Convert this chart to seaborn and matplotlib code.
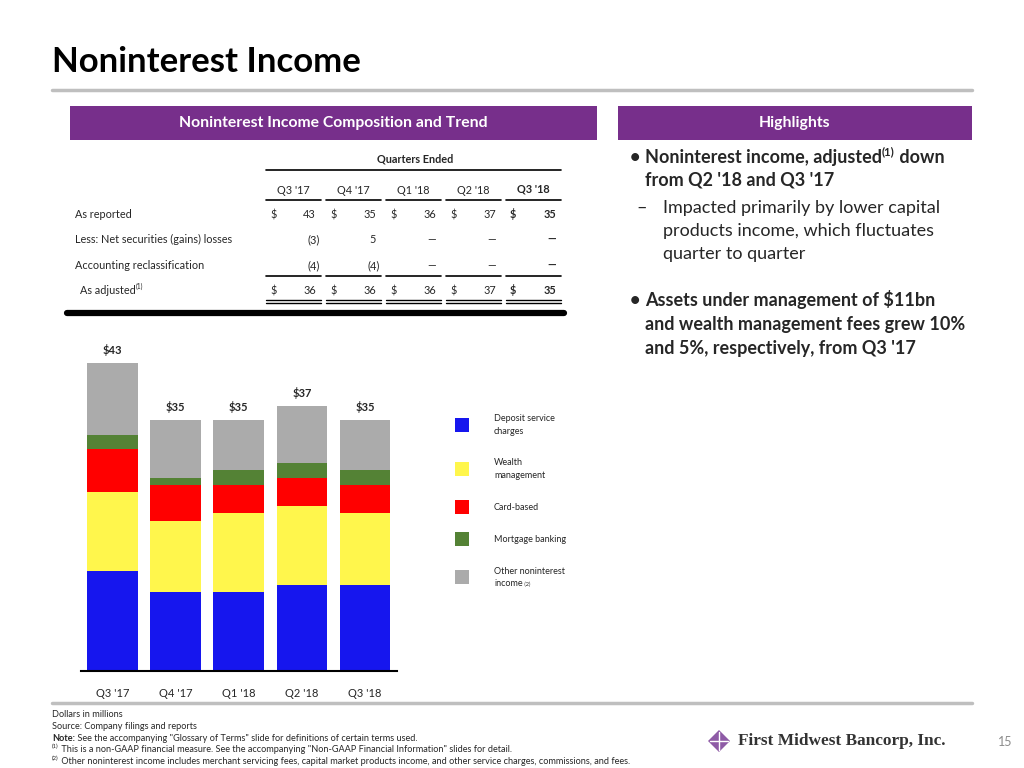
import numpy as np
import matplotlib.pyplot as plt
import seaborn as sns
from matplotlib.patches import Rectangle, Polygon
from matplotlib.lines import Line2D

# chart data (dollars in millions)
quarters = ["Q3 '17", "Q4 '17", "Q1 '18", "Q2 '18", "Q3 '18"]
deposit_service = [14, 11, 11, 12, 12]
wealth_mgmt = [11, 10, 11, 11, 10]
card_based = [6, 5, 4, 4, 4]
mortgage_banking = [2, 1, 2, 2, 2]
other_income = [10, 8, 7, 8, 7]
bar_totals = [43, 35, 35, 37, 35]

series_names = ["Deposit service\ncharges", "Wealth\nmanagement", "Card-based",
                "Mortgage banking", "Other noninterest\nincome"]
series_colors = ["#1616EE", "#FFF64C", "#FF0000", "#548235", "#ABABAB"]

# reconciliation table
as_reported = [43, 35, 36, 37, 35]
securities_adj = [-3, 5, None, None, None]
accounting_adj = [-4, -4, None, None, None]
as_adjusted = [36, 36, 36, 37, 35]
row_labels = ["As reported", "Less: Net securities (gains) losses",
              "Accounting reclassification", "As adjusted"]

W, H = 1024, 768
PURPLE = "#772F8B"

sns.set_theme(style="white")
plt.rcParams['font.family'] = ['Lato', 'DejaVu Sans']

fig = plt.figure(figsize=(W / 100, H / 100), dpi=100)
renderer = fig.canvas.get_renderer()


def fx(x):
    return x / W


def fy(y):
    return 1 - y / H


def txt(x, y, s, **kw):
    kw.setdefault('va', 'center')
    return fig.text(fx(x), fy(y), s, **kw)


def runs(x, y, parts):
    # draw pieces side by side: (text, kwargs, vertical offset in px)
    for s, kw, dy in parts:
        t = txt(x, y + dy, s, **kw)
        x += t.get_window_extent(renderer).width
    return x


def hline(x0, x1, y, lw=1.0, color='black', **kw):
    fig.add_artist(Line2D([fx(x0), fx(x1)], [fy(y), fy(y)], lw=lw, color=color,
                          transform=fig.transFigure, **kw))


def box(x, y, w, h, color):
    fig.add_artist(Rectangle((fx(x), fy(y + h)), w / W, h / H, facecolor=color,
                             edgecolor='none', transform=fig.transFigure))


# title
txt(52, 72, "Noninterest Income", fontsize=25, fontweight='bold', color='black',
    va='baseline')
hline(52, 972, 90, lw=2.5, color='#BFBFBF')

# section headers
box(70, 106, 527, 34, PURPLE)
box(618, 106, 354, 34, PURPLE)
txt(333, 123, "Noninterest Income Composition and Trend", fontsize=11.3,
    fontweight='bold', color='white', ha='center')
txt(795, 123, "Highlights", fontsize=11.3, fontweight='bold', color='white', ha='center')

# ---- table ----
tfs = 7.8
txt(415, 159, "Quarters Ended", fontsize=tfs, fontweight='bold', ha='center')
hline(266, 561, 170, lw=1.2)
col_left = [266, 326, 386, 446, 506]
for i, q in enumerate(quarters):
    last = i == len(quarters) - 1
    txt(col_left[i] + 27, 193 if last else 194, q, fontsize=tfs,
        fontweight='bold' if last else 'normal', ha='center', va='baseline')
    hline(col_left[i], col_left[i] + 55, 200, lw=1.2)


def fmt(v):
    if v is None:
        return "\u2014"
    if v < 0:
        return f"({-v})"
    return f"{v}"


row_y = [218, 243, 269, 294]
rows = [as_reported, securities_adj, accounting_adj, as_adjusted]
for r, (label, vals) in enumerate(zip(row_labels, rows)):
    lx = 80 if r == 3 else 75
    if r == 3:
        runs(lx, row_y[r], [(label, dict(fontsize=tfs, va='baseline'), 0),
                            ("(1)", dict(fontsize=4.8, va='baseline'), -5)])
    else:
        txt(lx, row_y[r], label, fontsize=tfs, va='baseline')
    for i, v in enumerate(vals):
        bold = 'bold' if i == len(vals) - 1 else 'normal'
        right = col_left[i] + 50
        if r in (0, 3):
            txt(col_left[i] + 4, row_y[r], "$", fontsize=tfs, fontweight=bold,
                va='baseline')
        s = fmt(v)
        if v is not None and v < 0:
            right += 4
        txt(right, row_y[r], s, fontsize=tfs, fontweight=bold, ha='right',
            va='baseline')
for i in range(5):
    hline(col_left[i], col_left[i] + 55, 276, lw=1.2)
    hline(col_left[i], col_left[i] + 55, 300, lw=1.0)
    hline(col_left[i], col_left[i] + 55, 303, lw=1.0)
hline(67, 564, 313, lw=4.5, solid_capstyle='round')

# ---- stacked bars ----
ax = fig.add_axes([fx(80.7), fy(671), 316 / W, 331 / H])
layers = [deposit_service, wealth_mgmt, card_based, mortgage_banking, other_income]
cum = np.cumsum(layers, axis=0)
for i in reversed(range(len(layers))):
    sns.barplot(x=quarters, y=cum[i], color=series_colors[i], saturation=1,
                width=0.8, errorbar=None, linewidth=0, ax=ax)
for i, t in enumerate(bar_totals):
    ax.text(i, t + 1.0, f"${t}", ha='center', va='bottom', fontsize=8,
            fontweight='bold')
ax.set_xlim(-0.5, 4.5)
ax.set_ylim(0, 46.2)
ax.set_yticks([])
ax.set_xlabel('')
ax.set_ylabel('')
for side in ['top', 'left', 'right']:
    ax.spines[side].set_visible(False)
ax.spines['bottom'].set_color('black')
ax.spines['bottom'].set_linewidth(1.5)
ax.tick_params(axis='x', length=0, pad=12, labelsize=8)

# legend
leg_y = [425, 469, 507, 539, 577]
for name, color, y in zip(series_names, series_colors, leg_y):
    box(455, y - 7, 14, 14, color)
    if name.endswith("income"):
        top, bottom = name.split("\n")
        txt(494, y - 6, top, fontsize=6.5)
        runs(494, y + 9, [(bottom, dict(fontsize=6.5, va='baseline'), 0),
                          (" (2)", dict(fontsize=4, va='baseline'), 0)])
    else:
        txt(494, y, name, fontsize=6.5, linespacing=1.6)

# ---- highlights ----
hfs = 13
B = dict(fontsize=hfs, fontweight='bold', va='baseline')
R = dict(fontsize=hfs, va='baseline')
txt(630, 163, "\u2022", **B)
runs(645, 163, [("Noninterest income, adjusted", B, 0),
                ("(1)", dict(fontsize=8, fontweight='bold', va='baseline'), -8),
                (" down", B, 0)])
txt(645, 186, "from Q2 '18 and Q3 '17", **B)
txt(636, 213, "\u2013", **R)
for k, line in enumerate(["Impacted primarily by lower capital",
                          "products income, which fluctuates",
                          "quarter to quarter"]):
    txt(663, 213 + 23 * k, line, **R)
txt(630, 306, "\u2022", **B)
for k, line in enumerate(["Assets under management of $11bn",
                          "and wealth management fees grew 10%",
                          "and 5%, respectively, from Q3 '17"]):
    txt(645, 306 + 24 * k, line, **B)

# ---- footer ----
hline(52, 972, 703, lw=2.5, color='#BFBFBF')
ffs = 6.6
F = dict(fontsize=ffs, va='baseline')
S = dict(fontsize=4.2, va='baseline')
txt(52, 717, "Dollars in millions", **F)
txt(52, 729, "Source: Company filings and reports", **F)
runs(52, 741, [("Note:", dict(fontsize=ffs, fontweight='bold', va='baseline'), 0),
               (" See the accompanying \"Glossary of Terms\" slide for definitions of certain terms used.", F, 0)])
runs(52, 752, [("(1)", S, -4),
               (" This is a non-GAAP financial measure. See the accompanying \"Non-GAAP Financial Information\" slides for detail.", F, 0)])
runs(52, 764, [("(2)", S, -4),
               (" Other noninterest income includes merchant servicing fees, capital market products income, and other service charges, commissions, and fees.", F, 0)])

# logo
cx, cy, r = 719, 741, 11
fig.add_artist(Polygon([(fx(cx), fy(cy - r)), (fx(cx + r), fy(cy)),
                        (fx(cx), fy(cy + r)), (fx(cx - r), fy(cy))],
                       closed=True, facecolor='#8E5BA6', edgecolor='none',
                       transform=fig.transFigure))
hline(cx - r + 2, cx + r - 2, cy, lw=1.0, color='white')
fig.add_artist(Line2D([fx(cx), fx(cx)], [fy(cy - r + 2), fy(cy + r - 2)], lw=1.0,
                      color='white', transform=fig.transFigure))
txt(738, 741, "First Midwest Bancorp, Inc.", fontsize=12.4, fontweight='bold',
    family=['Liberation Serif', 'DejaVu Serif'], color='#333333')
txt(1005, 742, "15", fontsize=9, color='#8C8C8C', ha='center')

fig.savefig("out.png", dpi=100)
